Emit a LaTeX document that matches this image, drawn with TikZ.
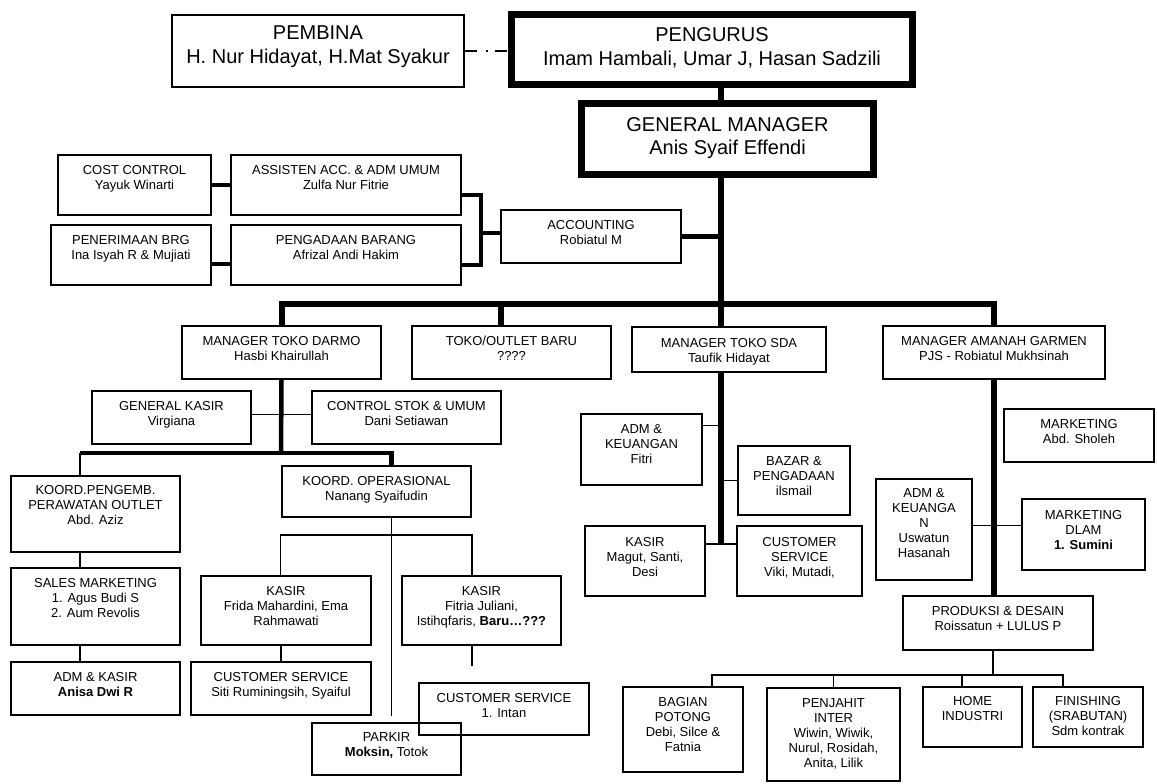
\documentclass[tikz,border=0pt]{standalone}
\usepackage{fontspec}
\setmainfont{Liberation Sans}
\usetikzlibrary{positioning}
\newcommand{\hurufkecil}{\fontsize{13}{15.2}\selectfont}
\newcommand{\hurufbesar}{\fontsize{20}{23.5}\selectfont}
\newcommand{\isi}[4][19pt]{\parbox[c][#3][t]{#2}{\centering\rule{0pt}{#1}#4}}

\begin{document}
\begin{tikzpicture}[
  x=1pt, y=-1pt,
  kotak/.style={draw, line width=2pt, inner sep=0pt, anchor=north west, font=\hurufkecil},
  kotaktebal/.style={kotak, line width=7pt, font=\hurufbesar},
  garis/.style={line width=1.3pt},
  garissedang/.style={line width=4.5pt},
  garistebal/.style={line width=6pt}
]
  \useasboundingbox (0,0) rectangle (1157,784);

  \node[kotak, font=\hurufbesar] (pembina) at (171,14) {\isi[25pt]{292pt}{72pt}{PEMBINA\\H. Nur Hidayat, H.Mat Syakur}};
  \node[kotaktebal] (pengurus) at (508,11) {\isi[27.5pt]{401pt}{70pt}{PENGURUS\\Imam Hambali, Umar J, Hasan Sadzili}};
  \node[kotaktebal] (gm) at (578,100) {\isi[27.5pt]{292pt}{71pt}{GENERAL MANAGER\\Anis Syaif Effendi}};

  \node[kotak] (cost) at (57,154) {\isi{153pt}{60pt}{COST CONTROL\\Yayuk Winarti}};
  \node[kotak] (assisten) at (230,154) {\isi{230pt}{60pt}{ASSISTEN ACC. \& ADM UMUM\\Zulfa Nur Fitrie}};
  \node[kotak] (terima) at (50,224) {\isi{160pt}{60pt}{PENERIMAAN BRG\\Ina Isyah R \& Mujiati}};
  \node[kotak] (adaan) at (230,224) {\isi{230pt}{60pt}{PENGADAAN BARANG\\Afrizal Andi Hakim}};
  \node[kotak] (akun) at (500,209) {\isi{180pt}{53pt}{ACCOUNTING\\Robiatul M}};

  \node[kotak] (darmo) at (181,325) {\isi{199pt}{53pt}{MANAGER TOKO DARMO\\Hasbi Khairullah}};
  \node[kotak] (baru) at (411,325) {\isi{199pt}{53pt}{TOKO/OUTLET BARU\\????}};
  \node[kotak] (sda) at (631,326) {\isi[20pt]{194pt}{45pt}{MANAGER TOKO SDA\\Taufik Hidayat}};
  \node[kotak] (amanah) at (882,325) {\isi{222pt}{53pt}{MANAGER AMANAH GARMEN\\PJS - Robiatul Mukhsinah}};

  \node[kotak] (gkasir) at (91,390) {\isi{159pt}{53pt}{GENERAL KASIR\\Virgiana}};
  \node[kotak] (stok) at (311,390) {\isi{189pt}{53pt}{CONTROL STOK \& UMUM\\Dani Setiawan}};
  \node[kotak] (pengemb) at (10,475) {\isi[18pt]{169pt}{76pt}{KOORD.PENGEMB.\\PERAWATAN OUTLET\\Abd. Aziz}};
  \node[kotak] (operasional) at (281,465) {\isi{189pt}{51pt}{KOORD. OPERASIONAL\\Nanang Syaifudin}};
  \node[kotak] (sales) at (10,567) {\isi{169pt}{77pt}{SALES MARKETING\\1. Agus Budi S\\2. Aum Revolis}};
  \node[kotak] (admkasir) at (10,661) {\isi{169pt}{53pt}{ADM \& KASIR\\\textbf{Anisa Dwi R}}};
  \node[kotak] (kasir1) at (200,575) {\isi{170pt}{69pt}{KASIR\\Frida Mahardini, Ema\\Rahmawati}};
  \node[kotak] (cs1) at (190,661) {\isi{180pt}{53pt}{CUSTOMER SERVICE\\Siti Ruminingsih, Syaiful}};
  \node[kotak] (kasir2) at (401,575) {\isi{159pt}{69pt}{KASIR\\Fitria Juliani,\\Istihqfaris, \textbf{Baru…???}}};
  \node[kotak] (cs2) at (418,682) {\isi{170pt}{52pt}{CUSTOMER SERVICE\\1. Intan}};
  \node[kotak] (parkir) at (311,722) {\isi[18pt]{149pt}{52pt}{PARKIR\\\textbf{Moksin,} Totok}};

  \node[kotak] (sdaadm) at (580,413) {\isi{121pt}{71pt}{ADM \&\\KEUANGAN\\Fitri}};
  \node[kotak] (bazar) at (737,445) {\isi{112pt}{69pt}{BAZAR \&\\PENGADAAN\\ilsmail}};
  \node[kotak] (sdakasir) at (584,525) {\isi[20pt]{120pt}{70pt}{KASIR\\Magut, Santi,\\Desi}};
  \node[kotak] (sdacs) at (736,525) {\isi[20pt]{125pt}{70pt}{CUSTOMER\\SERVICE\\Viki, Mutadi,}};

  \node[kotak] (mkt) at (1003,408) {\isi{150pt}{53pt}{MARKETING\\Abd. Sholeh}};
  \node[kotak] (amadm) at (875,478) {\isi[18pt]{96pt}{101pt}{ADM \&\\KEUANGA\\N\\Uswatun\\Hasanah}};
  \node[kotak] (dlam) at (1021,498) {\isi[20.5pt]{123pt}{71pt}{MARKETING\\DLAM\\\textbf{1. Sumini}}};
  \node[kotak] (produksi) at (902,595) {\isi{190pt}{54pt}{PRODUKSI \& DESAIN\\Roissatun + LULUS P}};
  \node[kotak] (potong) at (622,686) {\isi{120pt}{85pt}{BAGIAN\\POTONG\\Debi, Silce \&\\Fatnia}};
  \node[kotak] (jahit) at (766,687) {\isi{133pt}{93pt}{PENJAHIT\\INTER\\Wiwin, Wiwik,\\Nurul, Rosidah,\\Anita, Lilik}};
  \node[kotak] (home) at (922,686) {\isi[18pt]{99pt}{60pt}{HOME\\INDUSTRI}};
  \node[kotak] (finish) at (1032,686) {\isi[18pt]{110pt}{60pt}{FINISHING\\(SRABUTAN)\\Sdm kontrak}};

  \coordinate (jalur) at (721,304);
  \coordinate (kurung) at (481,233);
  \coordinate (cabang) at (281,453);
  \coordinate (cabangkasir) at (391.5,535);
  \coordinate (ujung) at (472,666);
  \coordinate (ujungsda) at (721,544);
  \coordinate (cabangprod) at (993,675);

  \draw[garis, dash pattern=on 12pt off 9pt on 2pt off 7pt] (pembina.east) -- (pembina.east -| pengurus.west);
  \draw[garistebal] (pengurus.south -| jalur) -- (gm.north -| jalur);
  \draw[garistebal] (gm.south -| jalur) -- (sda.north -| jalur);
  \draw[garistebal] (darmo.north) |- (jalur) -| (amanah.north);
  \draw[garistebal] ([xshift=-10.5pt]baru.north) -- ([xshift=-10.5pt]baru.north |- jalur);

  \draw[garissedang] (akun.east) -- (akun.east -| jalur);
  \draw[garissedang] ([yshift=-10pt]assisten.east) -| (kurung) |- ([yshift=-10pt]adaan.east);
  \draw[garissedang] (kurung) -- (kurung -| akun.west);
  \draw[garissedang] (cost.east) -- (assisten.west);
  \draw[garissedang] ([yshift=-9pt]terima.east) -- ([yshift=-9pt]terima.east -| adaan.west);

  \draw[garissedang] (darmo.south) -- (cabang);
  \draw[garis] ([yshift=3pt]gkasir.east) -- ([yshift=3pt]gkasir.east -| stok.west);
  \draw[garissedang] ([xshift=-15.5pt]pengemb.north |- cabang) -- ([xshift=15pt]operasional.north |- cabang) -- ([xshift=15pt]operasional.north);
  \draw[garis] ([xshift=-15.5pt]pengemb.north |- cabang) -- ([xshift=-15.5pt]pengemb.north);
  \draw[garis] ([xshift=-15.5pt]pengemb.south) -- ([xshift=-15.5pt]sales.north);
  \draw[garis] ([xshift=-15.5pt]sales.south) -- ([xshift=-15.5pt]admkasir.north);
  \draw[garis] ([xshift=15pt]operasional.south) -- ([xshift=5pt,yshift=6pt]parkir.north);
  \draw[garis] ([xshift=-5.5pt]kasir1.north) |- (cabangkasir) -| ([xshift=-9.5pt]kasir2.north);
  \draw[garis] (cs1.north |- kasir1.south) -- (cs1.north);
  \draw[garis] ([xshift=-9.5pt]kasir2.south) -- (ujung);

  \draw[garistebal] (sda.south -| jalur) -- (ujungsda);
  \draw[garis] ([yshift=24pt]sdaadm.east) -- ([yshift=24pt]sdaadm.east -| jalur);
  \draw[garis] (bazar.west -| jalur) -- (bazar.west);
  \draw[garis] (ujungsda -| sdakasir.east) -- (ujungsda -| sdacs.west);

  \draw[garistebal] (amanah.south) -- (amanah.south |- produksi.north);
  \draw[garis] ([yshift=4pt]amadm.east) -- ([yshift=4pt]amadm.east -| dlam.west);
  \draw[garis] (cabangprod |- produksi.south) -- (cabangprod);
  \draw[garis] ([xshift=29pt]potong.north) |- (cabangprod) -| ([xshift=-25pt]finish.north);
  \draw[garis] (jahit.north) -- (jahit.north |- cabangprod);
  \draw[garis] ([xshift=-10.5pt]home.north) -- ([xshift=-10.5pt]home.north |- cabangprod);
\end{tikzpicture}
\end{document}
